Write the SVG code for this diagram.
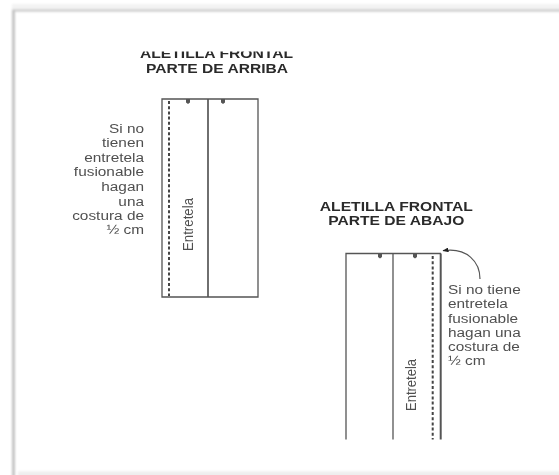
<svg xmlns="http://www.w3.org/2000/svg" width="559" height="475" viewBox="0 0 559 475">
<defs>
<filter id="soft" x="-5%" y="-5%" width="110%" height="110%"><feGaussianBlur stdDeviation="0.45"/></filter>
<filter id="edge" x="-5%" y="-20%" width="110%" height="140%"><feGaussianBlur stdDeviation="1"/></filter>
<clipPath id="titleclip"><rect x="100" y="51.500" width="240" height="12"/></clipPath>
<marker id="arrow" markerWidth="6" markerHeight="5" refX="5.500" refY="2.500" orient="auto" markerUnits="userSpaceOnUse"><path d="M0 0L6 2.500L0 5Z" fill="#222"/></marker>
</defs>
<style>
.t{font-family:"Liberation Sans",Arial,sans-serif;font-size:13.5px;fill:#505050}
.e{font-family:"Liberation Sans",Arial,sans-serif;font-size:14.5px;fill:#505050}
.h{font-family:"Liberation Sans",Arial,sans-serif;font-size:13.5px;font-weight:bold;fill:#2a2a2a;text-anchor:middle}
.l{fill:none;stroke:#555;stroke-width:1.3}
.d{fill:none;stroke:#444;stroke-width:2;stroke-dasharray:3 2.2}
.n{fill:#555}
</style>
<rect width="559" height="475" fill="#fff"/>
<g id="frame" filter="url(#edge)">
<rect x="12" y="4" width="550" height="6" fill="#f3f3f3"/>
<rect x="12" y="9.500" width="550" height="2" fill="#c4c4c4"/>
<rect x="12" y="10" width="3" height="470" fill="#c4c4c4"/>
<rect x="18" y="471.500" width="545" height="6" fill="#eeeeee"/>
</g>
<g filter="url(#soft)">
<g id="top-title"><g clip-path="url(#titleclip)"><text class="h" x="216.500" y="58" textLength="153" lengthAdjust="spacingAndGlyphs">ALETILLA FRONTAL</text></g><text class="h" x="217" y="73" textLength="142" lengthAdjust="spacingAndGlyphs">PARTE DE ARRIBA</text></g>
<g id="top-note"><text class="t" text-anchor="end" transform="translate(144,0) scale(1.14,1)">
<tspan x="0" y="133">Si no</tspan><tspan x="0" y="147.500">tienen</tspan><tspan x="0" y="162">entretela</tspan><tspan x="0" y="176.500">fusionable</tspan><tspan x="0" y="191">hagan</tspan><tspan x="0" y="206">una</tspan><tspan x="0" y="220">costura de</tspan><tspan x="0" y="234.500">½ cm</tspan></text></g>
<g id="top-piece">
<path class="l" d="M162 297V99H258V297Z"/><path class="l" style="stroke-width:1.7" d="M208 99V297"/>
<path class="d" d="M169 101V296"/>
<path class="n" d="M186 99h4v3.500l-2 1.500l-2-1.500Z"/><path class="n" d="M221 99h4v3.500l-2 1.500l-2-1.500Z"/>
<text class="e" transform="translate(192.500,251) rotate(-90)" textLength="53" lengthAdjust="spacingAndGlyphs">Entretela</text>
</g>
<g id="bottom-title"><text class="h" x="396.300" y="210.500" textLength="153" lengthAdjust="spacingAndGlyphs">ALETILLA FRONTAL</text><text class="h" x="396.300" y="224.500" textLength="136" lengthAdjust="spacingAndGlyphs">PARTE DE ABAJO</text></g>
<g id="bottom-note"><text class="t" transform="translate(448,0) scale(1.14,1)"><tspan x="0" y="294">Si no tiene</tspan><tspan x="0" y="308">entretela</tspan><tspan x="0" y="323">fusionable</tspan><tspan x="0" y="337">hagan una</tspan><tspan x="0" y="351">costura de</tspan><tspan x="0" y="365">½ cm</tspan></text></g>
<g id="bottom-piece">
<path class="l" d="M346 439.500V253.500H441"/><path class="l" d="M393 253.500V439.500"/><path class="l" style="stroke-width:2" d="M440.700 253.500V439.500"/>
<path class="d" d="M432.700 256V439.500"/>
<path class="n" d="M378 253.500h4v3.500l-2 1.500l-2-1.500Z"/><path class="n" d="M413 253.500h4v3.500l-2 1.500l-2-1.500Z"/>
<text class="e" transform="translate(415.500,411) rotate(-90)" textLength="52" lengthAdjust="spacingAndGlyphs">Entretela</text>
</g>
</g>
<g id="connectors" filter="url(#soft)"><path d="M480 279C480 262 467 247 443 250.700" fill="none" stroke="#555" stroke-width="1.2" marker-end="url(#arrow)"/></g>
</svg>
